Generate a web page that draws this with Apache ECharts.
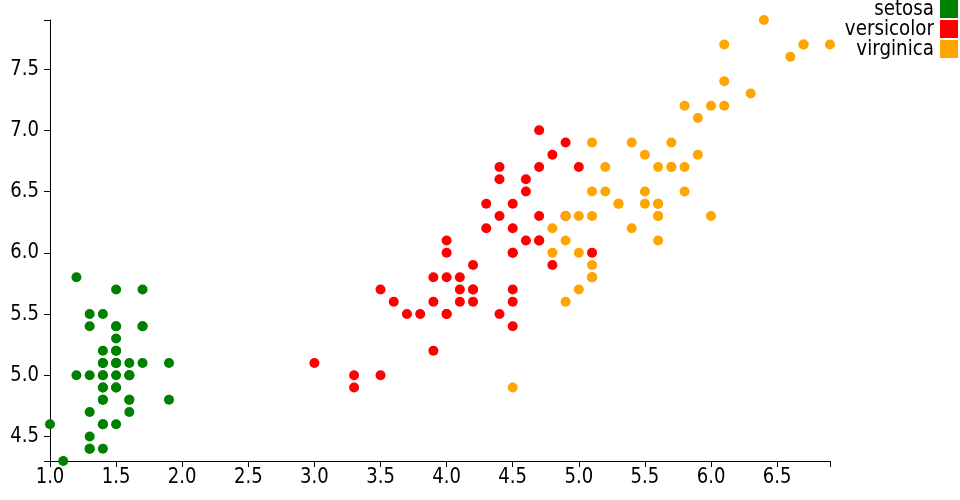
<!DOCTYPE html>
<html>
<head>
<meta charset="utf-8">
<script src="https://cdn.jsdelivr.net/npm/echarts@6/dist/echarts.min.js"></script>
<style>html,body{margin:0;padding:0;background:#fff}#c{width:960px;height:500px}</style>
</head>
<body>
<div id="c"></div>
<script>
const species = ['setosa', 'versicolor', 'virginica'];
const colors = ['#008000', '#ff0000', '#ffa500'];

const setosaPetal = [1.4,1.4,1.3,1.5,1.4,1.7,1.4,1.5,1.4,1.5,1.5,1.6,1.4,1.1,1.2,1.5,1.3,1.4,1.7,1.5,1.7,1.5,1.0,1.7,1.9,1.6,1.6,1.5,1.4,1.6,1.6,1.5,1.5,1.4,1.5,1.2,1.3,1.4,1.3,1.5,1.3,1.3,1.3,1.6,1.9,1.4,1.6,1.4,1.5,1.4];
const setosaSepal = [5.1,4.9,4.7,4.6,5.0,5.4,4.6,5.0,4.4,4.9,5.4,4.8,4.8,4.3,5.8,5.7,5.4,5.1,5.7,5.1,5.4,5.1,4.6,5.1,4.8,5.0,5.0,5.2,5.2,4.7,4.8,5.4,5.2,5.5,4.9,5.0,5.5,4.9,4.4,5.1,5.0,4.5,4.4,5.0,5.1,4.8,5.1,4.6,5.3,5.0];

const versicolorPetal = [4.7,4.5,4.9,4.0,4.6,4.5,4.7,3.3,4.6,3.9,3.5,4.2,4.0,4.7,3.6,4.4,4.5,4.1,4.5,3.9,4.8,4.0,4.9,4.7,4.3,4.4,4.8,5.0,4.5,3.5,3.8,3.7,3.9,5.1,4.5,4.5,4.7,4.4,4.1,4.0,4.4,4.6,4.0,3.3,4.2,4.2,4.2,4.3,3.0,4.1];
const versicolorSepal = [7.0,6.4,6.9,5.5,6.5,5.7,6.3,4.9,6.6,5.2,5.0,5.9,6.0,6.1,5.6,6.7,5.6,5.8,6.2,5.6,5.9,6.1,6.3,6.1,6.4,6.6,6.8,6.7,6.0,5.7,5.5,5.5,5.8,6.0,5.4,6.0,6.7,6.3,5.6,5.5,5.5,6.1,5.8,5.0,5.6,5.7,5.7,6.2,5.1,5.7];

const virginicaPetal = [6.0,5.1,5.9,5.6,5.8,6.6,4.5,6.3,5.8,6.1,5.1,5.3,5.5,5.0,5.1,5.3,5.5,6.7,6.9,5.0,5.7,4.9,6.7,4.9,5.7,6.0,4.8,4.9,5.6,5.8,6.1,6.4,5.6,5.1,5.6,6.1,5.6,5.5,4.8,5.4,5.6,5.1,5.1,5.9,5.7,5.2,5.0,5.2,5.4,5.1];
const virginicaSepal = [6.3,5.8,7.1,6.3,6.5,7.6,4.9,7.3,6.7,7.2,6.5,6.4,6.8,5.7,5.8,6.4,6.5,7.7,7.7,6.0,6.9,5.6,7.7,6.3,6.7,7.2,6.2,6.1,6.4,7.2,7.4,7.9,6.4,6.3,6.1,7.7,6.3,6.4,6.0,6.9,6.7,6.9,5.8,6.8,6.7,6.7,6.3,6.5,6.2,5.9];

const xTicks = [1.0,1.5,2.0,2.5,3.0,3.5,4.0,4.5,5.0,5.5,6.0,6.5,6.9];
const xLabels = [1.0,1.5,2.0,2.5,3.0,3.5,4.0,4.5,5.0,5.5,6.0,6.5];
const yTicks = [4.3,4.5,5.0,5.5,6.0,6.5,7.0,7.5,7.9];
const yLabels = [4.5,5.0,5.5,6.0,6.5,7.0,7.5];

const xs = [setosaPetal, versicolorPetal, virginicaPetal];
const ys = [setosaSepal, versicolorSepal, virginicaSepal];

const FONT = "'DejaVu Sans', sans-serif";
// the reference uses a condensed face; emulate it by narrowing the glyphs
const TICK_FONT_SIZE = 22, TICK_SCALE_X = 0.82;
const LEGEND_FONT_SIZE = 21, LEGEND_SCALE_X = 0.87;

const series = species.map((name, i) => ({
  name: name,
  type: 'scatter',
  symbol: 'circle',
  symbolSize: 10,
  itemStyle: { color: colors[i], opacity: 1 },
  emphasis: { disabled: true },
  data: xs[i].map((x, k) => [x, ys[i][k]])
}));

const chart = echarts.init(document.getElementById('c'), null, { renderer: 'canvas' });
chart.setOption({
  animation: false,
  backgroundColor: '#fff',
  grid: { left: 50, right: 130, top: 20, bottom: 39, containLabel: false },
  xAxis: {
    type: 'value',
    min: 1.0,
    max: 6.9,
    splitLine: { show: false },
    axisLine: { show: true, onZero: false, lineStyle: { color: '#000', width: 1 } },
    axisTick: { show: true, length: 6, customValues: xTicks, lineStyle: { color: '#000' } },
    axisLabel: { show: false }
  },
  yAxis: {
    type: 'value',
    min: 4.3,
    max: 7.9,
    splitLine: { show: false },
    axisLine: { show: true, onZero: false, lineStyle: { color: '#000', width: 1 } },
    axisTick: { show: true, length: 6, customValues: yTicks, lineStyle: { color: '#000' } },
    axisLabel: { show: false }
  },
  series: series
});

// Tick labels placed through the axes' own scales
const gridBottom = chart.convertToPixel({ yAxisIndex: 0 }, 4.3);
const gridLeft = chart.convertToPixel({ xAxisIndex: 0 }, 1.0);
const graphics = [];
xLabels.forEach(v => {
  graphics.push({
    type: 'text',
    x: chart.convertToPixel({ xAxisIndex: 0 }, v),
    y: gridBottom + 16,
    scaleX: TICK_SCALE_X,
    silent: true,
    style: {
      text: v.toFixed(1), align: 'center', verticalAlign: 'middle',
      font: TICK_FONT_SIZE + 'px ' + FONT, fill: '#000'
    }
  });
});
yLabels.forEach(v => {
  graphics.push({
    type: 'text',
    x: gridLeft - 11,
    y: chart.convertToPixel({ yAxisIndex: 0 }, v),
    scaleX: TICK_SCALE_X,
    silent: true,
    style: {
      text: v.toFixed(1), align: 'right', verticalAlign: 'middle',
      font: TICK_FONT_SIZE + 'px ' + FONT, fill: '#000'
    }
  });
});
// Legend (swatch on the right, text right-aligned)
species.forEach((s, i) => {
  graphics.push({
    type: 'rect', silent: true,
    shape: { x: 940, y: i * 20, width: 18, height: 18 },
    style: { fill: colors[i] }
  });
  graphics.push({
    type: 'text', silent: true,
    x: 934, y: i * 20 + 9.5,
    scaleX: LEGEND_SCALE_X,
    style: {
      text: s, align: 'right', verticalAlign: 'middle',
      font: LEGEND_FONT_SIZE + 'px ' + FONT, fill: '#000'
    }
  });
});
chart.setOption({ graphic: { elements: graphics } });
</script>
</body>
</html>
